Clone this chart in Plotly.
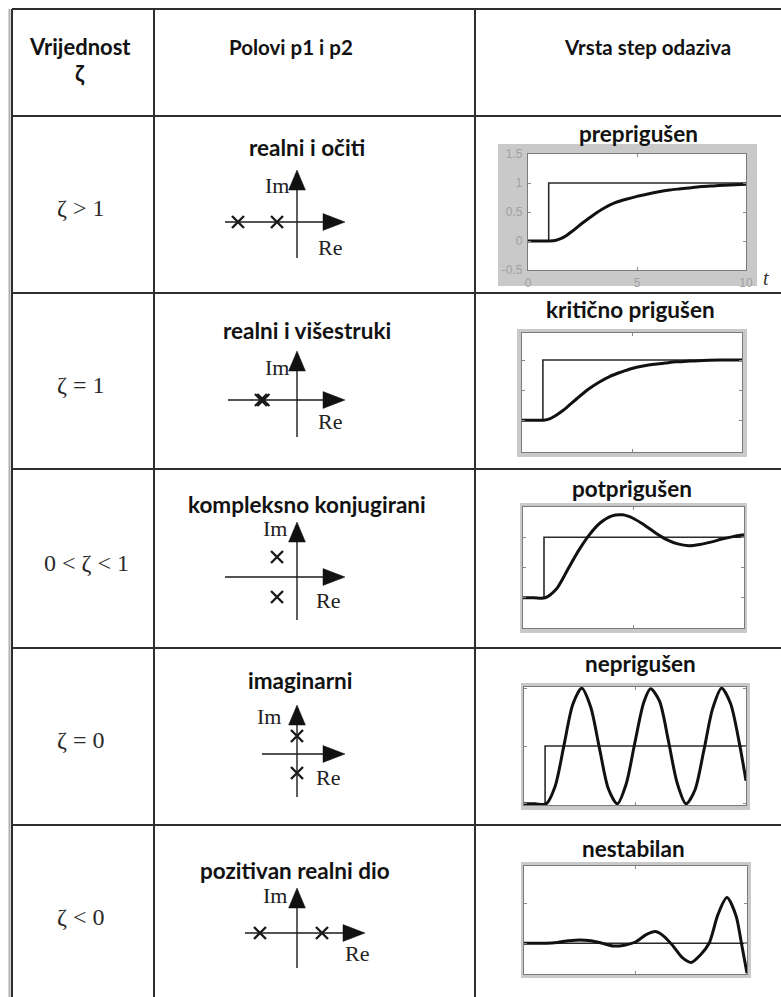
import plotly.graph_objects as go

W, H = 781, 997

# ---------------- data ----------------
HEADER_COL1 = "Vrijednost"
HEADER_ZETA = "ζ"
HEADER_COL2 = "Polovi p1 i p2"
HEADER_COL3 = "Vrsta step odaziva"

ZETA_LABELS = ["ζ > 1", "ζ = 1", "0 < ζ < 1", "ζ = 0", "ζ < 0"]
POLE_TITLES = ["realni i očiti", "realni i višestruki", "kompleksno konjugirani",
               "imaginarni", "pozitivan realni dio"]
RESP_TITLES = ["preprigušen", "kritično prigušen", "potprigušen", "neprigušen", "nestabilan"]

# poles (local units of each pole diagram)
POLES1_RE = [-2.95, -1.0]
POLES1_IM = [0.0, 0.0]
POLES2_RE = [-1.8, -1.68]
POLES2_IM = [0.0, 0.0]
POLES3_RE = [-1.0, -1.0]
POLES3_IM = [1.0, -1.0]
POLES4_RE = [0.0, 0.0]
POLES4_IM = [0.9, -0.95]
POLES5_RE = [-1.85, 1.25]
POLES5_IM = [0.0, 0.0]

# step input
STEP_T = [0, 0.95, 0.95, 10]
STEP_Y = [0, 0, 1, 1]
STEP5_Y = [0, 0, 0, 0]

# responses
T_OVER = [0, 0.5, 1, 1.25, 1.5, 1.75, 2, 2.5, 3, 3.5, 4, 4.5, 5, 5.5, 6, 6.5, 7, 7.5, 8, 8.5, 9, 9.5, 10]
Y_OVER = [0, 0, 0, 0.01, 0.04, 0.09, 0.16, 0.31, 0.45, 0.57, 0.66, 0.72, 0.77, 0.81, 0.85, 0.88,
          0.9, 0.92, 0.94, 0.95, 0.96, 0.97, 0.98]

T_CRIT = [0, 0.5, 1, 1.25, 1.5, 1.75, 2, 2.5, 3, 3.5, 4, 4.5, 5, 5.5, 6, 6.5, 7, 7.5, 8, 9, 10]
Y_CRIT = [0, 0, 0, 0.02, 0.07, 0.13, 0.2, 0.36, 0.51, 0.63, 0.73, 0.8, 0.86, 0.9, 0.93, 0.95,
          0.97, 0.98, 0.99, 1.0, 1.0]

T_UNDER = [0, 0.5, 1, 1.5, 2, 2.5, 3, 3.5, 4, 4.5, 5, 5.5, 6, 6.5, 7, 7.5, 8, 8.5, 9, 9.5, 10]
Y_UNDER = [0, 0, 0, 0.14, 0.45, 0.77, 1.04, 1.24, 1.35, 1.37, 1.31, 1.2, 1.07, 0.96, 0.89, 0.86,
           0.88, 0.92, 0.97, 1.01, 1.04]

T_UNDAMP = [0, 0.5, 1, 1.4, 1.8, 2.2, 2.6, 3.0, 3.4, 3.8, 4.2, 4.6, 5.0, 5.4, 5.7, 6.1, 6.5, 6.9,
            7.3, 7.7, 8.1, 8.5, 8.9, 9.3, 9.7, 10]
Y_UNDAMP = [0, 0, 0, 0.3, 1.01, 1.72, 2.0, 1.68, 0.96, 0.26, 0.0, 0.34, 1.07, 1.76, 1.99, 1.78,
            1.1, 0.36, 0.0, 0.24, 0.92, 1.65, 2.0, 1.74, 1.05, 0.4]

T_UNST = [0, 1, 1.5, 2, 2.5, 3, 3.5, 4, 4.5, 5, 5.5, 5.9, 6.3, 6.7, 7.1, 7.5, 7.9, 8.3, 8.7, 9.1,
          9.5, 9.75, 10]
Y_UNST = [0, 0, 0.02, 0.06, 0.08, 0.06, 0.0, -0.07, -0.05, 0.03, 0.22, 0.29, 0.16, -0.08, -0.36,
          -0.48, -0.3, 0.0, 0.72, 1.14, 0.7, 0.0, -0.75]

P1_XTICKS = [0, 5, 10]
P1_YTICKS = [-0.5, 0, 0.5, 1, 1.5]
P1_YTICKTEXT = ["-0.5", "0", "0.5", "1", "1.5"]

# ---------------- helpers ----------------
def fx(x):
    return x / W


def fy(y):
    return 1 - y / H


SANS = "Lato"
SERIF = "Liberation Serif"
INK = "#121212"

fig = go.Figure()
shapes = []
annotations = []

# ---------------- table grid ----------------
LINE = "#2e2e2e"
shapes.append(dict(type="line", xref="paper", yref="paper", x0=fx(9.5), x1=fx(9.5), y0=fy(9), y1=0,
                   line=dict(color="#b0b0b0", width=2)))
for yy in [9, 116, 293, 469, 648, 825]:
    shapes.append(dict(type="line", xref="paper", yref="paper", x0=fx(12), x1=1.0, y0=fy(yy), y1=fy(yy),
                       line=dict(color=LINE, width=2)))
for xx in [12, 154, 475]:
    shapes.append(dict(type="line", xref="paper", yref="paper", x0=fx(xx), x1=fx(xx), y0=fy(9), y1=0,
                       line=dict(color=LINE, width=2)))


def add_text(x, y, text, size, family=SANS, bold=False, color=INK, xref="paper", yref="paper"):
    if xref == "paper":
        x, y = fx(x), fy(y)
    annotations.append(dict(x=x, y=y, xref=xref, yref=yref, text=("<b>%s</b>" % text) if bold else text,
                            showarrow=False, xanchor="center", yanchor="middle",
                            font=dict(family=family, size=size, color=color)))


HEAD_SIZE = 20.5
TITLE_SIZE = 22.5

# headers
add_text(80, 47, HEADER_COL1, 22, bold=True)
add_text(80, 74, HEADER_ZETA, 22, bold=True)
add_text(291, 47, HEADER_COL2, HEAD_SIZE, bold=True)
add_text(647, 47, HEADER_COL3, HEAD_SIZE, bold=True)

# zeta column
ZETA_POS = [(80, 208), (80, 385), (86, 563), (80, 740), (80, 917)]
for (x, y), lab in zip(ZETA_POS, ZETA_LABELS):
    add_text(x, y, lab, 24, family=SERIF, color="#2a2a2a")

# ---------------- step responses ----------------
RESP_T = [T_OVER, T_CRIT, T_UNDER, T_UNDAMP, T_UNST]
RESP_Y = [Y_OVER, Y_CRIT, Y_UNDER, Y_UNDAMP, Y_UNST]
STEPS_Y = [STEP_Y, STEP_Y, STEP_Y, STEP_Y, STEP5_Y]
INNER = [(528, 746, 154, 270), (522, 742, 333, 452), (523, 744, 507, 628),
         (524, 746, 687, 805), (524, 747, 866, 974)]
OUTER = [(498, 757, 144, 286), (517, 747, 329, 457), (520, 747, 503, 633),
         (521, 750, 683, 810), (521, 751, 862, 978)]
YRANGES = [(-0.5, 1.5), (-0.53, 1.45), (-0.5, 1.5), (-0.02, 2.02), (-0.77, 1.93)]
YTICKS = [P1_YTICKS, [0, 0.5, 1], [0, 0.5, 1], [0, 1, 2], [0, 1]]
TITLE_POS = [(638, 134), (630, 310), (632, 488), (640, 663), (633, 848)]

layout_axes = {}
for i in range(5):
    k = i + 1
    xn = "x" if k == 1 else "x%d" % k
    yn = "y" if k == 1 else "y%d" % k
    ox0, ox1, oy0, oy1 = OUTER[i]
    shapes.append(dict(type="rect", xref="paper", yref="paper", x0=fx(ox0), x1=fx(ox1), y0=fy(oy1), y1=fy(oy0),
                       fillcolor="#c9c9c9", line=dict(width=0), layer="below"))
    ix0, ix1, iy0, iy1 = INNER[i]
    shapes.append(dict(type="rect", xref="paper", yref="paper", x0=fx(ix0), x1=fx(ix1), y0=fy(iy1), y1=fy(iy0),
                       fillcolor="white", line=dict(width=0), layer="below"))
    fig.add_trace(go.Scatter(x=STEP_T, y=STEPS_Y[i], mode="lines", xaxis=xn, yaxis=yn,
                             line=dict(color="#2a2a2a", width=1.6), showlegend=False, hoverinfo="skip"))
    fig.add_trace(go.Scatter(x=RESP_T[i], y=RESP_Y[i], mode="lines", xaxis=xn, yaxis=yn,
                             line=dict(color="#111111", width=3, shape="spline", smoothing=0.8),
                             showlegend=False, hoverinfo="skip"))
    show_lbl = (i == 0)
    ax_common = dict(showgrid=False, zeroline=False, showline=True, mirror="ticks", linecolor="#7a7a7a",
                     linewidth=1.2, ticks="inside", ticklen=3, tickcolor="#8a8a8a", automargin=False,
                     showticklabels=show_lbl, tickfont=dict(family="Liberation Sans", size=12, color="#a0a0a0"),
                     fixedrange=True)
    layout_axes["xaxis" if k == 1 else "xaxis%d" % k] = dict(
        ax_common, domain=[fx(ix0), fx(ix1)], range=[0, 10], tickvals=P1_XTICKS, anchor=yn, ticklabelstandoff=1)
    ytk = dict(tickvals=YTICKS[i])
    if i == 0:
        ytk["ticktext"] = P1_YTICKTEXT
    layout_axes["yaxis" if k == 1 else "yaxis%d" % k] = dict(
        ax_common, domain=[fy(iy1), fy(iy0)], range=list(YRANGES[i]), anchor=xn, ticklabelstandoff=2, **ytk)
    add_text(TITLE_POS[i][0], TITLE_POS[i][1], RESP_TITLES[i], TITLE_SIZE, bold=True)

add_text(766, 278, "<i>t</i>", 20, family=SERIF, color="#333333")

# ---------------- pole diagrams ----------------
POLES_RE = [POLES1_RE, POLES2_RE, POLES3_RE, POLES4_RE, POLES5_RE]
POLES_IM = [POLES1_IM, POLES2_IM, POLES3_IM, POLES4_IM, POLES5_IM]
ORIGINS = [(297, 222), (297, 400), (297, 577), (297, 754), (297, 933)]
RE_EXT = [(-3.6, 2.4), (-3.45, 2.4), (-3.6, 2.4), (-1.75, 2.4), (-2.6, 3.4)]
IM_EXT = [(-1.8, 2.6), (-1.85, 2.45), (-2.15, 2.75), (-2.15, 2.45), (-1.75, 2.25)]
IM_LBL = [(-1.0, 1.85), (-1.0, 1.6), (-1.1, 2.45), (-1.4, 1.9), (-1.1, 1.9)]
RE_LBL = [(1.65, -1.25), (1.65, -1.1), (1.55, -1.15), (1.55, -1.15), (3.0, -1.0)]
PT_POS = [(307, 148), (307, 330), (307, 505), (300, 680), (295, 870)]
UNIT = 20.0  # px per unit
HALF_W, HALF_H = 5.0, 3.0

for i in range(5):
    k = i + 6
    xn, yn = "x%d" % k, "y%d" % k
    ox, oy = ORIGINS[i]
    layout_axes["xaxis%d" % k] = dict(domain=[fx(ox - HALF_W * UNIT), fx(ox + HALF_W * UNIT)],
                                      range=[-HALF_W, HALF_W], visible=False, anchor=yn, fixedrange=True,
                                      automargin=False)
    layout_axes["yaxis%d" % k] = dict(domain=[fy(oy + HALF_H * UNIT), fy(oy - HALF_H * UNIT)],
                                      range=[-HALF_H, HALF_H], visible=False, anchor=xn, fixedrange=True,
                                      automargin=False)
    r0, r1 = RE_EXT[i]
    i0, i1 = IM_EXT[i]
    ax_line = dict(color="#1a1a1a", width=1.4)
    shapes.append(dict(type="line", xref=xn, yref=yn, x0=r0, x1=r1 - 0.9, y0=0, y1=0, line=ax_line))
    shapes.append(dict(type="line", xref=xn, yref=yn, x0=0, x1=0, y0=i0, y1=i1 - 0.8, line=ax_line))
    shapes.append(dict(type="path", xref=xn, yref=yn,
                       path="M %g,0 L %g,%g L %g,%g Z" % (r1, r1 - 1.1, 0.42, r1 - 1.1, -0.42),
                       fillcolor="#111111", line=dict(color="#111111", width=0.5)))
    shapes.append(dict(type="path", xref=xn, yref=yn,
                       path="M 0,%g L %g,%g L %g,%g Z" % (i1, 0.42, i1 - 1.0, -0.42, i1 - 1.0),
                       fillcolor="#111111", line=dict(color="#111111", width=0.5)))
    fig.add_trace(go.Scatter(x=POLES_RE[i], y=POLES_IM[i], mode="markers", xaxis=xn, yaxis=yn,
                             marker=dict(symbol="x-thin", size=12, line=dict(color="#1a1a1a", width=2.4)),
                             showlegend=False, hoverinfo="skip"))
    add_text(IM_LBL[i][0], IM_LBL[i][1], "Im", 22, family=SERIF, color="#222222", xref=xn, yref=yn)
    add_text(RE_LBL[i][0], RE_LBL[i][1], "Re", 22, family=SERIF, color="#222222", xref=xn, yref=yn)
    add_text(PT_POS[i][0], PT_POS[i][1], POLE_TITLES[i], TITLE_SIZE, bold=True)

fig.update_layout(width=W, height=H, margin=dict(l=0, r=0, t=0, b=0, pad=0, autoexpand=False),
                  paper_bgcolor="white", plot_bgcolor="rgba(0,0,0,0)", showlegend=False,
                  shapes=shapes, annotations=annotations, **layout_axes)

fig.write_html("out.html", config={"displayModeBar": False, "staticPlot": True},
               post_script="document.body.style.margin='0px';document.body.style.overflow='hidden';")
